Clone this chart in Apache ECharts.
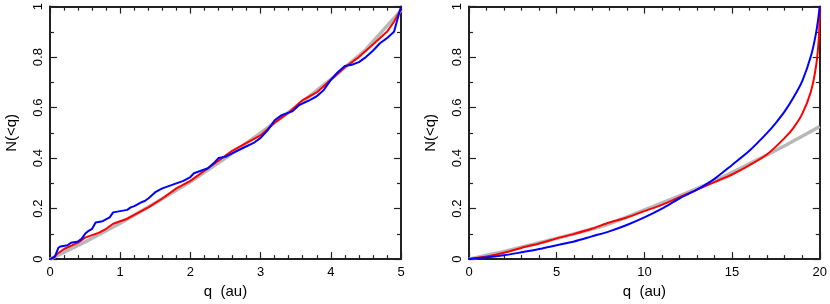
<!DOCTYPE html>
<html><head><meta charset="utf-8">
<script src="https://cdn.jsdelivr.net/npm/echarts@6/dist/echarts.min.js"></script>
<style>html,body{margin:0;padding:0;background:#fff}#c{width:830px;height:304px}</style>
</head><body><div id="c"></div>
<script>
// Left panel (q up to 5 au)
const qLeftBlue = [0, 0.07, 0.12, 0.15, 0.25, 0.3, 0.4, 0.45, 0.5, 0.55, 0.6, 0.65, 0.75, 0.85, 0.9, 1.0, 1.1, 1.15, 1.2, 1.3, 1.35, 1.4, 1.5, 1.6, 1.7, 1.8, 1.9, 2.0, 2.05, 2.15, 2.25, 2.35, 2.4, 2.5, 2.6, 2.75, 2.9, 3.0, 3.1, 3.2, 3.3, 3.45, 3.55, 3.7, 3.8, 3.9, 4.0, 4.1, 4.2, 4.3, 4.4, 4.5, 4.6, 4.7, 4.8, 4.9, 4.95, 5.0];
const nLeftBlue = [0, 0.01, 0.045, 0.05, 0.055, 0.065, 0.07, 0.08, 0.1, 0.112, 0.12, 0.145, 0.15, 0.165, 0.185, 0.19, 0.195, 0.205, 0.21, 0.225, 0.23, 0.24, 0.265, 0.28, 0.29, 0.30, 0.31, 0.325, 0.34, 0.35, 0.36, 0.385, 0.40, 0.405, 0.42, 0.44, 0.46, 0.48, 0.51, 0.55, 0.57, 0.585, 0.61, 0.63, 0.645, 0.67, 0.71, 0.74, 0.765, 0.77, 0.78, 0.80, 0.825, 0.855, 0.875, 0.90, 0.95, 1.0];
const qLeftRed = [0, 0.05, 0.1, 0.2, 0.4, 0.5, 0.6, 0.7, 0.8, 0.9, 1.0, 1.1, 1.2, 1.4, 1.6, 1.8, 2.0, 2.2, 2.4, 2.6, 2.8, 3.0, 3.2, 3.4, 3.6, 3.8, 4.0, 4.2, 4.4, 4.6, 4.8, 4.9, 5.0];
const nLeftRed = [0, 0.005, 0.02, 0.04, 0.065, 0.085, 0.095, 0.105, 0.12, 0.14, 0.15, 0.16, 0.175, 0.205, 0.24, 0.28, 0.31, 0.35, 0.39, 0.43, 0.46, 0.49, 0.54, 0.58, 0.63, 0.66, 0.71, 0.76, 0.80, 0.85, 0.90, 0.94, 0.99];
const qLeftGray = [0, 0.5, 1, 1.5, 2, 2.5, 3, 3.5, 4, 4.5, 5];
const nLeftGray = [0, 0.068, 0.142, 0.222, 0.306, 0.4, 0.5, 0.603, 0.712, 0.83, 0.985];

// Right panel (q up to 20 au)
const qRightBlue = [0, 1, 2, 3, 4, 5, 6, 7, 8, 9, 10, 11, 12, 13, 14, 15, 16, 17, 17.5, 18, 18.5, 19, 19.5, 19.8, 20];
const nRightBlue = [0, 0.007, 0.015, 0.027, 0.04, 0.055, 0.07, 0.09, 0.11, 0.135, 0.165, 0.2, 0.24, 0.275, 0.318, 0.373, 0.43, 0.5, 0.54, 0.585, 0.64, 0.705, 0.805, 0.9, 1.0];
const qRightRed = [0, 1, 2, 3, 4, 5, 6, 7, 8, 9, 10, 11, 12, 13, 14, 15, 16, 17, 18, 18.5, 19, 19.5, 19.8, 19.95, 20];
const nRightRed = [0, 0.01, 0.025, 0.045, 0.062, 0.082, 0.10, 0.12, 0.145, 0.165, 0.19, 0.215, 0.245, 0.275, 0.305, 0.335, 0.372, 0.415, 0.48, 0.52, 0.575, 0.665, 0.77, 0.88, 1.0];
const qRightGray = [0, 2, 4, 6, 8, 10, 12, 14, 16, 18, 20];
const nRightGray = [0, 0.03, 0.065, 0.1, 0.14, 0.195, 0.25, 0.31, 0.378, 0.449, 0.525];

const xLabelText = 'q  (au)';
const yLabelText = 'N(<q)';

const pairs = (xs, ys) => xs.map((x, i) => [x, ys[i]]);
const FONT = 'Liberation Sans';
const AX = '#222';

function xAx(grid, max, interval, pos) {
  const bottom = pos === 'bottom';
  return {
    type: 'value', gridIndex: grid, position: pos, min: 0, max: max, interval: interval,
    axisLine: {show: true, onZero: false, lineStyle: {color: AX, width: 2}},
    axisTick: {show: true, inside: true, length: 7, lineStyle: {color: AX, width: 1.2}},
    minorTick: {show: true, splitNumber: 5, length: 4, lineStyle: {color: AX, width: 1.2}},
    splitLine: {show: false},
    axisLabel: {show: bottom, margin: 7, color: '#000', fontFamily: FONT, fontSize: 13},
    name: bottom ? xLabelText : '', nameLocation: 'middle', nameGap: 17,
    nameTextStyle: {color: '#000', fontFamily: FONT, fontSize: 15}
  };
}
function yAx(grid, pos) {
  const left = pos === 'left';
  return {
    type: 'value', gridIndex: grid, position: pos, min: 0, max: 1, interval: 0.2,
    axisLine: {show: true, onZero: false, lineStyle: {color: AX, width: 2}},
    axisTick: {show: true, inside: true, length: 7, lineStyle: {color: AX, width: 1.2}},
    minorTick: {show: true, splitNumber: 2, length: 4, lineStyle: {color: AX, width: 1.2}},
    splitLine: {show: false},
    axisLabel: {show: left, rotate: 90, margin: 5, color: '#000', fontFamily: FONT, fontSize: 13,
      formatter: v => String(Math.round(v * 10) / 10)},
    name: left ? yLabelText : '', nameLocation: 'middle', nameGap: 31, nameRotate: 90,
    nameTextStyle: {color: '#000', fontFamily: FONT, fontSize: 15}
  };
}
function line(xi, yi, data, color, width, z) {
  return {type: 'line', xAxisIndex: xi, yAxisIndex: yi, data: data, showSymbol: false, symbol: 'none',
    lineStyle: {color: color, width: width}, z: z, animation: false, silent: true};
}

const chart = echarts.init(document.getElementById('c'), null, {renderer: 'canvas'});
chart.setOption({
  animation: false,
  backgroundColor: '#fff',
  grid: [
    {left: 50, top: 1, width: 351, height: 261},
    {left: 469, top: 1, width: 351, height: 261}
  ],
  xAxis: [xAx(0, 5, 1, 'bottom'), xAx(0, 5, 1, 'top'), xAx(1, 20, 5, 'bottom'), xAx(1, 20, 5, 'top')],
  yAxis: [yAx(0, 'left'), yAx(0, 'right'), yAx(1, 'left'), yAx(1, 'right')],
  series: [
    line(0, 0, pairs(qLeftGray, nLeftGray), '#b8b8b8', 3.5, 2),
    line(0, 0, pairs(qLeftRed, nLeftRed), '#ff0000', 2, 3),
    line(0, 0, pairs(qLeftBlue, nLeftBlue), '#0000ff', 2, 4),
    Object.assign(line(2, 2, pairs(qRightGray, nRightGray), '#b8b8b8', 3.5, 2), {smooth: 0.3}),
    Object.assign(line(2, 2, pairs(qRightRed, nRightRed), '#ff0000', 2, 3), {smooth: 0.3}),
    Object.assign(line(2, 2, pairs(qRightBlue, nRightBlue), '#0000ff', 2, 4), {smooth: 0.3})
  ]
});
</script></body></html>
